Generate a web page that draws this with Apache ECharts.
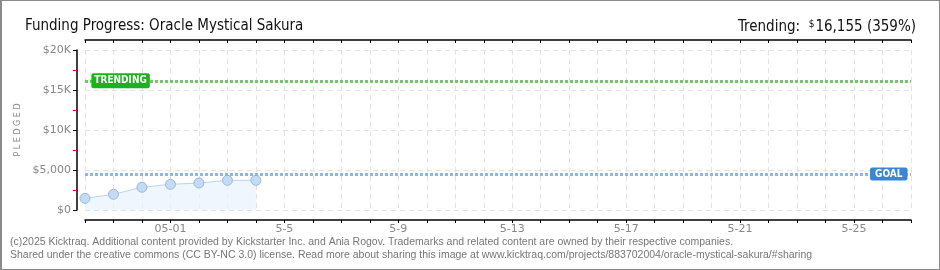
<!DOCTYPE html>
<html><head><meta charset="utf-8">
<script src="https://cdn.jsdelivr.net/npm/echarts@6/dist/echarts.min.js"></script>
<style>
html,body{margin:0;padding:0;background:#fff;}
#c{width:940px;height:270px;box-sizing:border-box;border:1px solid #8a8a8a;border-left:2px solid #8a8a8a;}
</style></head>
<body><div id="c"></div>
<script>
// Days counted from Apr 28 (index 0) to May 27 (index 29)
const dayLabels = ['4-28','4-29','4-30','05-01','5-2','5-3','5-4','5-5','5-6','5-7','5-8','5-9','5-10','5-11','5-12','5-13','5-14','5-15','5-16','5-17','5-18','5-19','5-20','5-21','5-22','5-23','5-24','5-25','5-26','5-27'];
const shownLabels = ['05-01','5-5','5-9','5-13','5-17','5-21','5-25'];
const pledgedDays = [0,1,2,3,4,5,6];
const pledgedValues = [1460,1960,2840,3210,3375,3710,3710];
const goalValue = 4500;
const trendingValue = 16155;
const trendingPct = 359;
const yTicks = {0:'$0',5000:'$5,000',10000:'$10K',15000:'$15K',20000:'$20K'};

const FONT = 'DejaVu Sans';
const TFONT = 'DejaVu Sans Condensed';
const chart = echarts.init(document.getElementById('c'), null, {renderer:'canvas', width:937, height:268});

const xBase = {
  type:'value', min:0, max:dayLabels.length-1, interval:1, offset:10,
  axisLine:{show:true, onZero:false, lineStyle:{color:'#000', width:1.5}},
  splitLine:{show:false}
};
chart.setOption({
  animation:false,
  backgroundColor:'#fff',
  grid:{left:83, right:28, top:49, bottom:59},
  title:[
    {text:'Funding Progress: Oracle Mystical Sakura', left:18, top:13,
     textStyle:{fontFamily:TFONT, fontSize:15, fontWeight:'normal', color:'#111'}},
    {text:'{l|Trending:  }{s|$}{l|' + trendingValue.toLocaleString('en-US') + ' (' + trendingPct + '%)}', right:18, top:13,
     textStyle:{fontWeight:'normal', rich:{l:{fontFamily:TFONT, fontSize:15, fontWeight:'normal', color:'#111'}, s:{fontFamily:TFONT, fontSize:10, fontWeight:'normal', color:'#111', verticalAlign:'top', padding:[0,1,6,0]}}}}
  ],
  xAxis:[
    Object.assign({}, xBase, {
      axisTick:{show:true, length:3, lineStyle:{color:'#000'}},
      axisLabel:{show:true, margin:4, fontFamily:FONT, fontSize:11, color:'#888',
        formatter:function(v){ const l = dayLabels[v]; return shownLabels.indexOf(l)>=0 ? l : ''; }},
      splitLine:{show:true, lineStyle:{color:'#e3e3e3', type:[5,4], width:1}}
    }),
    Object.assign({}, xBase, {
      axisTick:{show:true, inside:true, length:3, lineStyle:{color:'#000'}},
      axisLabel:{show:false}
    })
  ],
  yAxis:{
    type:'value', min:0, max:20000, interval:5000, offset:8,
    name:'P L E D G E D', nameLocation:'middle', nameGap:41, nameRotate:90,
    nameTextStyle:{fontFamily:FONT, fontSize:8, color:'#888'},
    axisLine:{show:true, onZero:false, lineStyle:{color:'#000', width:1.5}},
    axisTick:{show:true, length:4, lineStyle:{color:'#000'}},
    minorTick:{show:true, splitNumber:2, length:4, lineStyle:{color:'#e00'}},
    axisLabel:{margin:6, fontFamily:FONT, fontSize:11, color:'#888', formatter:function(v){return yTicks[v];}},
    splitLine:{show:true, lineStyle:{color:'#e3e3e3', type:[5,4], width:1}}
  },
  series:[
    {
      type:'line', xAxisIndex:0, data:pledgedDays.map((d,i)=>[d,pledgedValues[i]]),
      symbol:'circle', symbolSize:10, showAllSymbol:true,
      lineStyle:{color:'#b7d3f2', width:1},
      itemStyle:{color:'#c4dbf6', borderColor:'#9db9dc', borderWidth:1},
      areaStyle:{color:'#e9f2fc'},
      markLine:{
        silent:true, symbol:'none', label:{show:false},
        data:[
          {yAxis:trendingValue, lineStyle:{color:'#74c66a', width:3, type:[3,2]}},
          {yAxis:goalValue, lineStyle:{color:'#8db6e4', width:3, type:[3,2]}}
        ]
      },
      markPoint:{
        silent:true, symbol:'rect', symbolSize:0,
        data:[
          {coord:[1.25, trendingValue],
           label:{show:true, position:'inside', formatter:'TRENDING', color:'#fff', fontFamily:TFONT, fontSize:10, fontWeight:'bold',
             backgroundColor:'#1ab31a', borderRadius:2, padding:[3,3,2,3]}},
          {coord:[28.22, goalValue],
           label:{show:true, position:'inside', formatter:'GOAL', color:'#fff', fontFamily:TFONT, fontSize:10, fontWeight:'bold',
             backgroundColor:'#3a86d6', borderRadius:2, padding:[2,5,1,5]}}
        ]
      }
    }
  ],
  graphic:[
    {type:'text', left:8, top:236, style:{text:'(c)2025 Kicktraq. Additional content provided by Kickstarter Inc. and Ania Rogov. Trademarks and related content are owned by their respective companies.', font:'10.5px "Liberation Sans"', fill:'#777'}},
    {type:'text', left:8, top:249, style:{text:'Shared under the creative commons (CC BY-NC 3.0) license. Read more about sharing this image at www.kicktraq.com/projects/883702004/oracle-mystical-sakura/#sharing', font:'10.5px "Liberation Sans"', fill:'#777'}}
  ]
});
</script></body></html>
